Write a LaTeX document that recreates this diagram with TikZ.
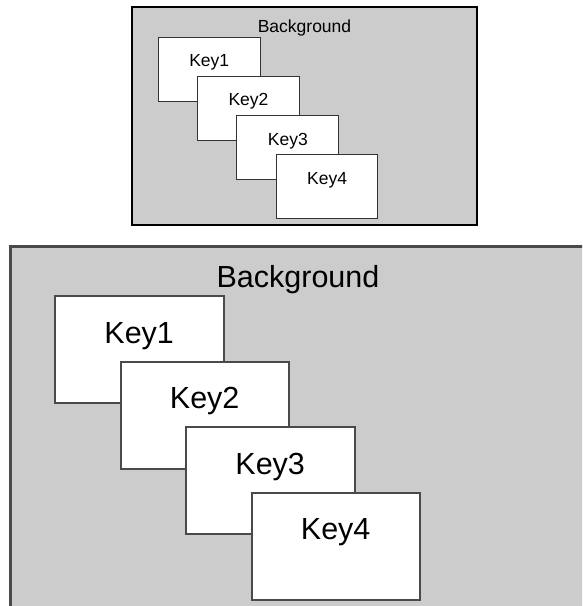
\documentclass[tikz,border=0pt]{standalone}
\usepackage{fontspec}
\setmainfont{Liberation Sans}
\definecolor{bggray}{HTML}{CCCCCC}
\definecolor{edgeA}{HTML}{333333}
\definecolor{edgeB}{HTML}{4A4A4A}
\tikzset{
  panel/.style={rectangle, fill=bggray, inner sep=0pt, outer sep=0pt, anchor=north west},
  keybox/.style={rectangle, fill=white, inner sep=0pt, outer sep=0pt, anchor=north west},
  lbl/.style={anchor=base, inner sep=0pt, text=black},
  smallfont/.style={font=\fontsize{17.5}{20}\selectfont},
  bigfont/.style={font=\fontsize{30.5}{34}\selectfont},
}
\begin{document}
\begin{tikzpicture}[x=1pt,y=-1pt]
\useasboundingbox (0,0) rectangle (582,606);
% small diagram
\node[panel, draw=black, line width=1.5pt, minimum width=345pt, minimum height=218pt] (bgA) at (132,7) {};
\node[lbl, smallfont] (bgAtext) at (304.5,32) {Background};
\foreach \i in {1,...,4} {
  \node[keybox, draw=edgeA, line width=1pt, minimum width=101.7pt, minimum height=64pt] (kA\i) at ({158.3+39.3*(\i-1)},{37.3+39.2*(\i-1)}) {};
  \node[lbl, smallfont] (kAt\i) at ({209.2+39.3*(\i-1)},{66.6+39.2*(\i-1)}) {Key\i};
}
% large diagram
\begin{scope}
\clip (0,0) rectangle (582,606);
\node[panel, draw=edgeB, line width=3pt, minimum width=576pt, minimum height=364pt] (bgB) at (10,246) {};
\node[lbl, bigfont] (bgBtext) at (298,287.5) {Background};
\foreach \i in {1,...,4} {
  \node[keybox, draw=edgeB, line width=2pt, minimum width=168.5pt, minimum height=107pt] (kB\i) at ({55+65.5*(\i-1)},{296+65.5*(\i-1)}) {};
  \node[lbl, bigfont] (kBt\i) at ({139.2+65.5*(\i-1)},{343+65.5*(\i-1)}) {Key\i};
}
\end{scope}
\end{tikzpicture}
\end{document}
